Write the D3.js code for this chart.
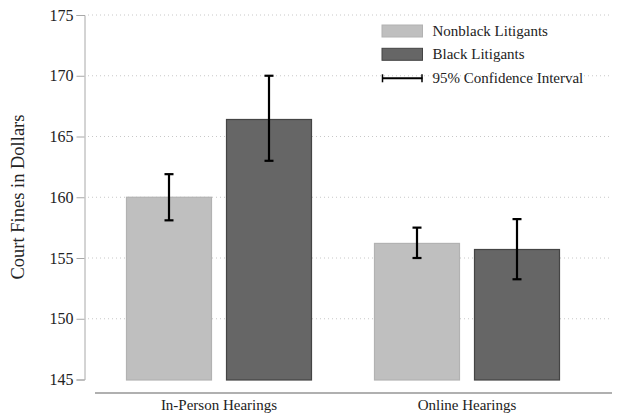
<!DOCTYPE html>
<html><head><meta charset="utf-8">
<script src="https://cdn.jsdelivr.net/npm/d3@7"></script>
<style>body{margin:0;background:#fff}svg{display:block}text{font-family:"Liberation Serif","DejaVu Serif",serif;fill:#222}</style>
</head><body><svg id="c" width="619" height="414"></svg>
<script>
const categories = ["In-Person Hearings", "Online Hearings"];
const seriesNames = ["Nonblack Litigants", "Black Litigants"];
const means = [[160.0, 166.4], [156.2, 155.7]];
const ciLow = [[158.1, 163.0], [155.0, 153.25]];
const ciHigh = [[161.9, 170.0], [157.5, 158.2]];
const yTicks = [145, 150, 155, 160, 165, 170, 175];
const colors = ["#bfbfbf", "#666666"];
const strokes = ["#b2b2b2", "#444444"];

const svg = d3.select("#c");
const y = d3.scaleLinear().domain([145, 175]).range([379.5, 15]);
const x0 = d3.scaleBand().domain(categories).range([95, 591]).paddingInner(0.0).paddingOuter(0.0);
// group width 248, bars within
const x1 = d3.scaleBand().domain(seriesNames).range([0, 186]).paddingInner(0.14);
const groupOffset = (x0.bandwidth() - 186) / 2;

// gridlines
svg.append("g").selectAll("line").data(yTicks.filter(d => d > 145)).join("line")
  .attr("x1", 88).attr("x2", 612).attr("y1", d => y(d)).attr("y2", d => y(d))
  .attr("stroke", "#c8c8c8").attr("stroke-width", 1).attr("stroke-dasharray", "1,3");

// y axis
const yAxis = d3.axisLeft(y).tickValues(yTicks).tickSize(8).tickPadding(3).tickFormat(d3.format("d"));
const ya = svg.append("g").attr("transform", "translate(84.5,0)").call(yAxis);
ya.select(".domain").attr("stroke", "#a8a8a8");
ya.selectAll(".tick line").attr("stroke", "#a8a8a8");
ya.selectAll(".tick text").style("font-size", "16px").style("font-family", '"Liberation Serif",serif').attr("fill", "#222");

// bars
const groups = svg.append("g").selectAll("g").data(categories).join("g")
  .attr("transform", c => `translate(${x0(c) + groupOffset},0)`);
groups.each(function(c, ci) {
  const g = d3.select(this);
  seriesNames.forEach((s, si) => {
    const bx = x1(s), bw = x1.bandwidth();
    g.append("rect").attr("x", bx + 0.5).attr("y", y(means[ci][si])).attr("width", bw - 1)
      .attr("height", y(145) - y(means[ci][si]) + 0.5)
      .attr("fill", colors[si]).attr("stroke", strokes[si]).attr("stroke-width", 1.2);
    const cx = bx + bw / 2;
    const e = g.append("g").attr("stroke", "#000").attr("stroke-width", 2.2);
    e.append("line").attr("x1", cx).attr("x2", cx).attr("y1", y(ciLow[ci][si])).attr("y2", y(ciHigh[ci][si]));
    e.append("line").attr("x1", cx - 4.5).attr("x2", cx + 4.5).attr("y1", y(ciLow[ci][si])).attr("y2", y(ciLow[ci][si]));
    e.append("line").attr("x1", cx - 4.5).attr("x2", cx + 4.5).attr("y1", y(ciHigh[ci][si])).attr("y2", y(ciHigh[ci][si]));
  });
});

// x axis
svg.append("line").attr("x1", 95).attr("x2", 612).attr("y1", 393).attr("y2", 393)
  .attr("stroke", "#b0b0b0").attr("stroke-width", 2);
svg.append("g").selectAll("text").data(categories).join("text")
  .attr("x", c => x0(c) + x0.bandwidth() / 2 - 28 * 0).attr("y", 410)
  .attr("text-anchor", "middle").style("font-size", "15px").text(d => d);

// y title
svg.append("text").attr("transform", "translate(24,197) rotate(-90)")
  .attr("text-anchor", "middle").style("font-size", "18.5px").text("Court Fines in Dollars");

// legend
const lg = svg.append("g");
seriesNames.forEach((s, i) => {
  const yy = 25 + i * 23.3;
  lg.append("rect").attr("x", 382).attr("y", yy).attr("width", 40.5).attr("height", 12)
    .attr("fill", colors[i]).attr("stroke", strokes[i]).attr("stroke-width", 1);
  lg.append("text").attr("x", 432.5).attr("y", yy + 11).style("font-size", "15px").text(s);
});
const ly = 78.3;
lg.append("line").attr("x1", 382).attr("x2", 422.5).attr("y1", ly).attr("y2", ly).attr("stroke", "#000").attr("stroke-width", 2);
lg.append("line").attr("x1", 382.5).attr("x2", 382.5).attr("y1", ly - 4).attr("y2", ly + 4).attr("stroke", "#000").attr("stroke-width", 1.5);
lg.append("line").attr("x1", 422).attr("x2", 422).attr("y1", ly - 4).attr("y2", ly + 4).attr("stroke", "#000").attr("stroke-width", 1.5);
lg.append("text").attr("x", 432.5).attr("y", ly + 5).style("font-size", "15px").text("95% Confidence Interval");
</script></body></html>
